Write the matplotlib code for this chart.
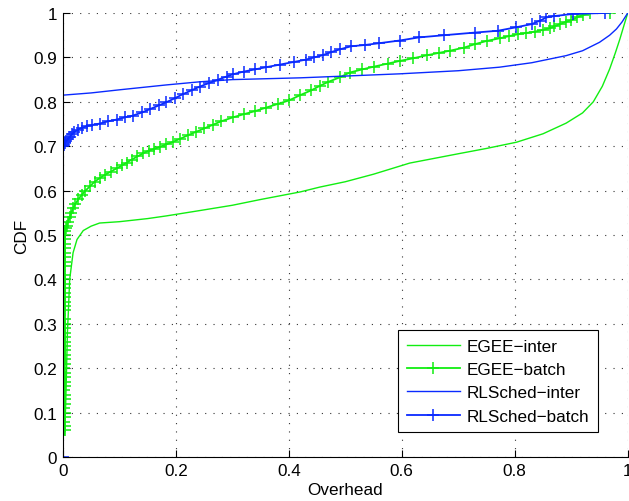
import matplotlib
matplotlib.use("Agg")
import matplotlib.pyplot as plt

plt.rcParams['font.family'] = ['Liberation Sans', 'DejaVu Sans']

# EGEE-inter
egee_inter_x = [0.003, 0.005, 0.0065, 0.008, 0.0094, 0.012, 0.015, 0.018, 0.025, 0.036,
                0.05, 0.065, 0.1, 0.15, 0.183, 0.242, 0.3, 0.35, 0.42, 0.455,
                0.5, 0.55, 0.614, 0.7, 0.75, 0.803, 0.85, 0.891, 0.92, 0.939,
                0.955, 0.968, 0.978, 0.986, 0.994, 1.0]
egee_inter_y = [0.05, 0.12, 0.20, 0.28, 0.32, 0.40, 0.43, 0.46, 0.49, 0.51,
                0.52, 0.527, 0.53, 0.537, 0.543, 0.555, 0.567, 0.58, 0.597, 0.608,
                0.62, 0.637, 0.662, 0.683, 0.695, 0.709, 0.728, 0.752, 0.775, 0.8,
                0.835, 0.874, 0.91, 0.941, 0.975, 1.0]

# EGEE-batch
egee_batch_x = [0.003, 0.003, 0.002, 0.003, 0.003, 0.002, 0.003, 0.003, 0.003, 0.002,
                0.003, 0.003, 0.003, 0.003, 0.002, 0.003, 0.003, 0.003, 0.003, 0.003,
                0.003, 0.003, 0.003, 0.003, 0.003, 0.003, 0.003, 0.003, 0.003, 0.003,
                0.003, 0.003, 0.003, 0.003, 0.003, 0.003, 0.003, 0.003, 0.003, 0.003,
                0.003, 0.0035, 0.0035, 0.004,
                0.005, 0.007, 0.009, 0.012, 0.015, 0.018, 0.022, 0.027, 0.033, 0.04,
                0.048, 0.056, 0.065, 0.075, 0.085, 0.095, 0.105, 0.113, 0.122, 0.132,
                0.142, 0.152, 0.162, 0.172, 0.183, 0.195, 0.208, 0.222, 0.235, 0.25,
                0.265, 0.28, 0.301, 0.32, 0.34, 0.36, 0.38, 0.40, 0.42, 0.44,
                0.455, 0.47, 0.49, 0.508, 0.53, 0.55, 0.575, 0.596, 0.62, 0.645,
                0.665, 0.685, 0.71, 0.73, 0.75, 0.773, 0.79, 0.805, 0.82, 0.835,
                0.85, 0.862, 0.87, 0.88, 0.89, 0.9, 0.91, 0.92, 0.933, 0.968]
egee_batch_y = [0.06, 0.07, 0.08, 0.09, 0.10, 0.11, 0.12, 0.13, 0.14, 0.15,
                0.16, 0.17, 0.18, 0.19, 0.20, 0.21, 0.22, 0.23, 0.24, 0.25,
                0.26, 0.27, 0.28, 0.29, 0.30, 0.31, 0.33, 0.34, 0.35, 0.36,
                0.37, 0.38, 0.39, 0.40, 0.41, 0.43, 0.44, 0.45, 0.46, 0.47,
                0.48, 0.49, 0.50, 0.51,
                0.515, 0.52, 0.53, 0.54, 0.55, 0.56, 0.57, 0.58, 0.59, 0.60,
                0.61, 0.62, 0.628, 0.636, 0.643, 0.65, 0.657, 0.663, 0.67, 0.677,
                0.684, 0.69, 0.694, 0.699, 0.704, 0.71, 0.717, 0.725, 0.732, 0.74,
                0.748, 0.756, 0.765, 0.772, 0.779, 0.787, 0.795, 0.803, 0.815, 0.826,
                0.836, 0.845, 0.855, 0.866, 0.873, 0.879, 0.886, 0.892, 0.898, 0.905,
                0.91, 0.915, 0.922, 0.93, 0.937, 0.943, 0.948, 0.952, 0.955, 0.958,
                0.962, 0.966, 0.97, 0.975, 0.98, 0.984, 0.99, 0.995, 1.0, 1.0]

# RLSched-inter
rl_inter_x = [0.0, 0.0, 0.05, 0.1, 0.183, 0.242, 0.3, 0.42, 0.5, 0.596,
              0.7, 0.773, 0.83, 0.891, 0.92, 0.95, 0.968, 0.98, 0.99, 1.0]
rl_inter_y = [0.0, 0.815, 0.82, 0.827, 0.838, 0.845, 0.85, 0.854, 0.858, 0.863,
              0.87, 0.878, 0.888, 0.904, 0.915, 0.934, 0.95, 0.964, 0.98, 1.0]

# RLSched-batch
rl_batch_x = [0.0, 0.0, 0.002, 0.004, 0.006, 0.009, 0.012, 0.016, 0.02, 0.026,
              0.033, 0.042, 0.052, 0.065, 0.08, 0.095, 0.11, 0.124, 0.14, 0.155,
              0.17, 0.183, 0.198, 0.212, 0.228, 0.242, 0.258, 0.275, 0.29, 0.301,
              0.32, 0.34, 0.36, 0.385, 0.41, 0.43, 0.445, 0.46, 0.475, 0.49,
              0.51, 0.535, 0.56, 0.596, 0.63, 0.675, 0.73, 0.77, 0.803, 0.83,
              0.845, 0.856, 0.87, 0.903, 0.959]
rl_batch_y = [0.0, 0.70, 0.703, 0.707, 0.711, 0.716, 0.721, 0.727, 0.732, 0.737,
              0.741, 0.745, 0.748, 0.751, 0.756, 0.76, 0.765, 0.769, 0.776, 0.784,
              0.792, 0.799, 0.808, 0.817, 0.826, 0.834, 0.842, 0.85, 0.857, 0.862,
              0.868, 0.873, 0.878, 0.884, 0.89, 0.895, 0.9, 0.905, 0.912, 0.918,
              0.925, 0.928, 0.932, 0.938, 0.945, 0.95, 0.956, 0.96, 0.968, 0.975,
              0.983, 0.99, 0.993, 0.998, 1.0]

ticks = [0, 0.2, 0.4, 0.6, 0.8, 1]
yticks = [0, 0.1, 0.2, 0.3, 0.4, 0.5, 0.6, 0.7, 0.8, 0.9, 1]

green = '#11ee11'
blue = '#0a2aff'
fs = 12.3

fig = plt.figure(figsize=(6.29, 5.02), dpi=100)
ax = fig.add_axes([0.100, 0.0876, 0.898, 0.8845])

ax.plot(egee_inter_x, egee_inter_y, color=green, lw=1.0, label='EGEE\u2212inter')
ax.plot(egee_batch_x, egee_batch_y, color=green, lw=1.3, marker='+', ms=8, mew=1.1,
        label='EGEE\u2212batch')
ax.plot(rl_inter_x, rl_inter_y, color=blue, lw=1.0, label='RLSched\u2212inter')
ax.plot(rl_batch_x, rl_batch_y, color=blue, lw=1.3, marker='+', ms=8, mew=1.1,
        label='RLSched\u2212batch')

ax.set_xlim(0, 1)
ax.set_ylim(0, 1)
ax.set_xticks(ticks)
ax.set_xticklabels(['0', '0.2', '0.4', '0.6', '0.8', '1'])
ax.set_yticks(yticks)
ax.set_yticklabels(['0', '0.1', '0.2', '0.3', '0.4', '0.5', '0.6', '0.7', '0.8', '0.9', '1'])
ax.tick_params(direction='in', length=5, width=0.8, labelsize=fs, pad=4)
ax.spines['top'].set_visible(False)
ax.spines['right'].set_visible(False)
ax.grid(True, color='#333333', linestyle=(0, (1, 6.5)), linewidth=0.8)
ax.set_axisbelow(True)

ax.set_xlabel('Overhead', fontsize=fs, labelpad=3)
ax.set_ylabel('CDF', fontsize=fs, labelpad=3)

leg = ax.legend(loc='lower right', bbox_to_anchor=(0.947, 0.056), borderaxespad=0,
                fontsize=fs, fancybox=False, framealpha=1, edgecolor='black',
                handlelength=3.1, handletextpad=0.4, labelspacing=0.48, borderpad=0.5)
leg.get_frame().set_linewidth(0.8)

fig.savefig('out.png', dpi=100)
